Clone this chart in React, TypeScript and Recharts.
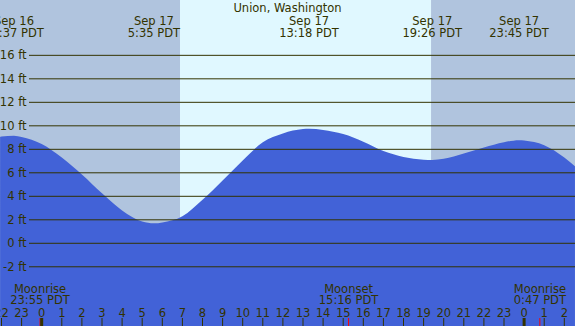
import React from 'react';
import { ComposedChart, Area, XAxis, YAxis, ReferenceArea, ReferenceLine } from 'recharts';

// Hours relative to Sep 17 00:00 PDT
const hours = [-2.07, -2, -1.38, -1, 0, 1, 2, 3, 4, 5, 5.58, 6, 7, 8, 9, 10, 11, 12, 13, 13.3, 14, 15, 16, 17, 18, 19, 19.43, 20, 21, 22, 23, 23.75, 24, 25, 26, 26.53];
const heights = [9.07, 9.1, 9.15, 9.05, 8.45, 7.3, 5.85, 4.25, 2.8, 1.85, 1.7, 1.78, 2.3, 3.7, 5.35, 7.05, 8.6, 9.35, 9.72, 9.75, 9.65, 9.3, 8.65, 7.85, 7.35, 7.12, 7.1, 7.2, 7.65, 8.15, 8.6, 8.78, 8.75, 8.35, 7.3, 6.55];

const tideEventHours = [-1.38, 5.583, 13.3, 19.433, 23.75];
const tideEventDates = ['Sep 16', 'Sep 17', 'Sep 17', 'Sep 17', 'Sep 17'];
const tideEventTimes = ['22:37 PDT', '5:35 PDT', '13:18 PDT', '19:26 PDT', '23:45 PDT'];

const moonEventHours = [-0.083, 15.267, 24.783];
const moonEventNames = ['Moonrise', 'Moonset', 'Moonrise'];
const moonEventTimes = ['23:55 PDT', '15:16 PDT', '0:47 PDT'];

const sunrise = 6.88;
const sunset = 19.37;

const hourTicks = [-2, -1, 0, 1, 2, 3, 4, 5, 6, 7, 8, 9, 10, 11, 12, 13, 14, 15, 16, 17, 18, 19, 20, 21, 22, 23, 24, 25, 26];
const levelTicks = [-2, 0, 2, 4, 6, 8, 10, 12, 14, 16];

const X_MIN = -2.0746;
const X_MAX = 26.532;
const Y_MIN = -7.04;
const Y_MAX = 20.71;
const W = 575;
const H = 326;
const LEVEL_LINE_START = X_MIN + (29 / W) * (X_MAX - X_MIN);

const NIGHT = '#B0C4DE';
const DAY = '#E0F8FF';
const WATER = '#4262D7';
const INK = '#333300';
const FONT = 'DejaVu Sans';
const FS = 11.5;

const data = hours.map((h, i) => ({ h, ft: heights[i] }));

const TideLabel = (props: any) => {
  const vb = props.viewBox || {};
  const x = vb.x;
  const top = vb.y;
  return (
    <g>
      <text x={x} y={top + 24.5} textAnchor="middle" fill={INK} fontFamily={FONT} fontSize={FS}>{props.date}</text>
      <text x={x} y={top + 36.5} textAnchor="middle" fill={INK} fontFamily={FONT} fontSize={FS}>{props.time}</text>
    </g>
  );
};

const MoonLabel = (props: any) => {
  const vb = props.viewBox || {};
  const x = vb.x;
  const bottom = vb.y + vb.height;
  return (
    <g>
      <text x={x} y={bottom - 33.3} textAnchor="middle" fill={INK} fontFamily={FONT} fontSize={FS}>{props.name}</text>
      <text x={x} y={bottom - 21.7} textAnchor="middle" fill={INK} fontFamily={FONT} fontSize={FS}>{props.time}</text>
    </g>
  );
};

const MoonTick = (props: any) => {
  const bottom = Math.max(props.y1, props.y2);
  return <line x1={props.x1} x2={props.x1} y1={bottom - 8} y2={bottom} stroke="#FF0000" strokeWidth={1} />;
};

const LevelLabel = (props: any) => {
  const vb = props.viewBox || {};
  return (
    <text x={vb.x - 2.5} y={vb.y} dy="0.36em" textAnchor="end" fill={INK} fontFamily={FONT} fontSize={FS}>
      {props.text}
    </text>
  );
};

const HourTick = (props: any) => {
  const { x, y, payload } = props;
  const v = payload.value;
  const label = ((v % 24) + 24) % 24;
  const midnight = label === 0;
  return (
    <g>
      <text x={x} y={y} textAnchor="middle" fill={INK} fontFamily={FONT} fontSize={FS}>{label}</text>
      <line x1={x} x2={x} y1={y + 1.5} y2={y + 9.5} stroke={INK} strokeWidth={midnight ? 3 : 1} />
    </g>
  );
};

export default function App() {
  return (
    <div style={{ position: 'absolute', left: 0, top: 0, width: W, height: H }}>
      <ComposedChart width={W} height={H} data={data} margin={{ top: 0, right: 0, bottom: 0, left: 0 }}>
        <XAxis
          dataKey="h"
          type="number"
          domain={[X_MIN, X_MAX]}
          allowDataOverflow
          ticks={hourTicks}
          interval={0}
          orientation="bottom"
          mirror
          axisLine={false}
          tickLine={false}
          tickSize={8}
          tickMargin={1.5}
          tick={<HourTick />}
        />
        <YAxis type="number" domain={[Y_MIN, Y_MAX]} allowDataOverflow hide />
        <ReferenceArea x1={X_MIN} x2={sunrise} y1={Y_MIN} y2={Y_MAX} fill={NIGHT} fillOpacity={1} stroke="none" zIndex={-10} />
        <ReferenceArea x1={sunrise} x2={sunset} y1={Y_MIN} y2={Y_MAX} fill={DAY} fillOpacity={1} stroke="none" zIndex={-10} />
        <ReferenceArea x1={sunset} x2={X_MAX} y1={Y_MIN} y2={Y_MAX} fill={NIGHT} fillOpacity={1} stroke="none" zIndex={-10} />
        <Area
          dataKey="ft"
          type="monotone"
          fill={WATER}
          fillOpacity={1}
          stroke="none"
          baseValue="dataMin"
          isAnimationActive={false}
          dot={false}
          activeDot={false}
        />
        {levelTicks.map((v) => (
          <ReferenceLine
            key={'lvl' + v}
            segment={[{ x: LEVEL_LINE_START, y: v }, { x: X_MAX, y: v }]}
            stroke={INK}
            strokeWidth={1}
            label={<LevelLabel text={`${v} ft`} />}
          />
        ))}
        {tideEventHours.map((h, i) => (
          <ReferenceLine
            key={'tide' + i}
            x={h}
            stroke="none"
            label={<TideLabel date={tideEventDates[i]} time={tideEventTimes[i]} />}
          />
        ))}
        {moonEventHours.map((h, i) => (
          <ReferenceLine
            key={'moon' + i}
            x={h}
            stroke="#FF0000"
            shape={<MoonTick />}
            label={<MoonLabel name={moonEventNames[i]} time={moonEventTimes[i]} />}
          />
        ))}
      </ComposedChart>
      <div
        style={{
          position: 'absolute',
          left: 0,
          top: 0,
          width: W,
          textAlign: 'center',
          fontFamily: FONT,
          fontSize: FS,
          lineHeight: '14px',
          color: INK,
          paddingTop: 1,
        }}
      >
        Union, Washington
      </div>
    </div>
  );
}
